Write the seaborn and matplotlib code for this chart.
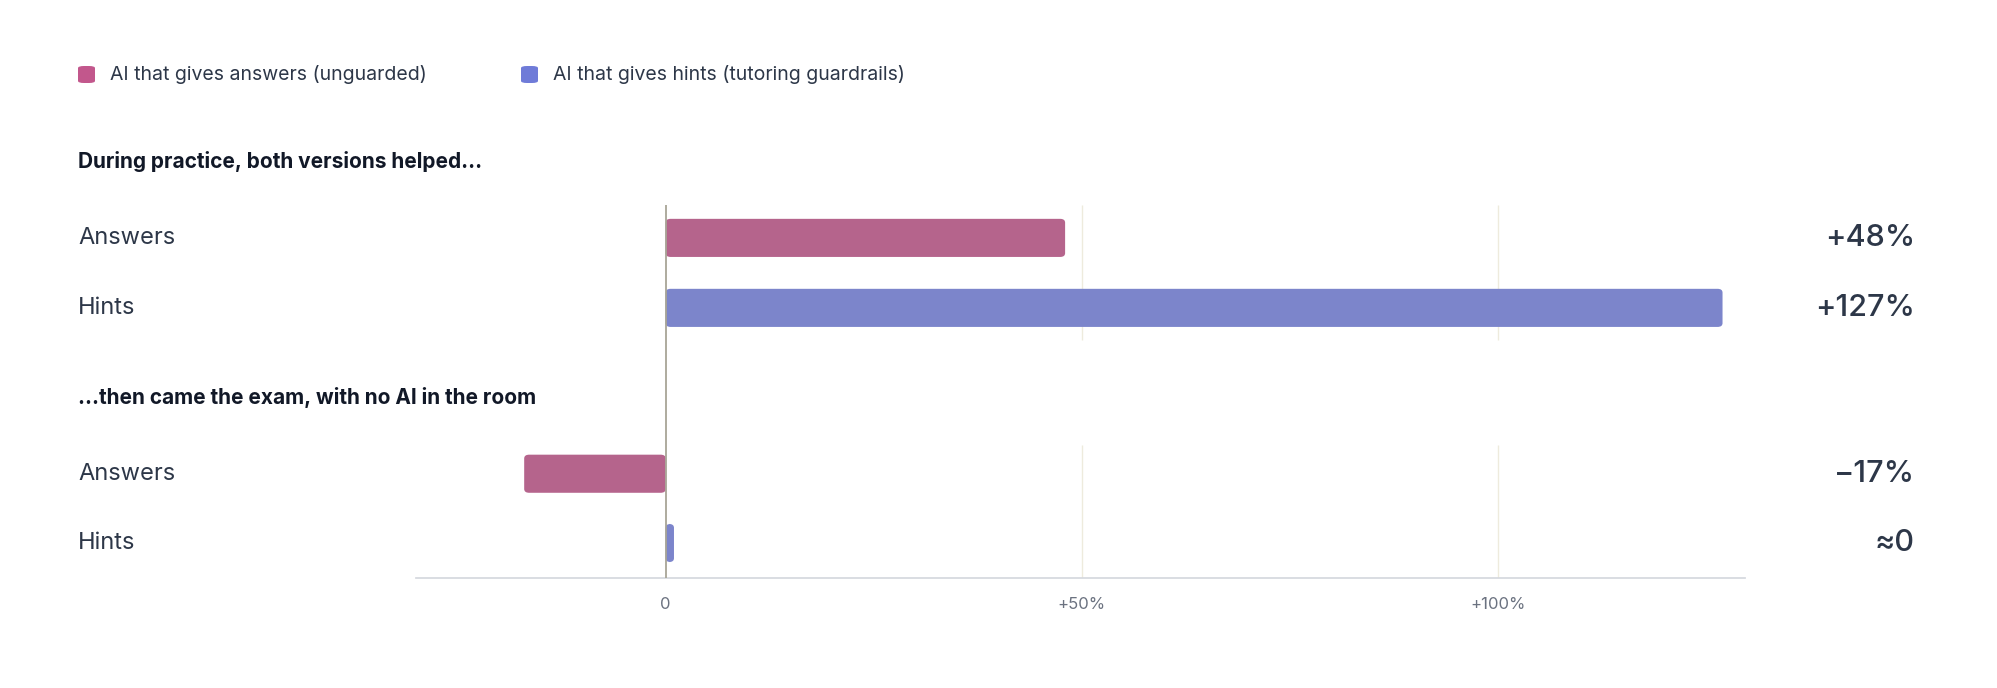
import matplotlib
matplotlib.use("Agg")
import matplotlib.pyplot as plt
import seaborn as sns
import pandas as pd
from matplotlib.patches import FancyBboxPatch

rows = ["Answers", "Hints", "Answers", "Hints"]
series = ["AI that gives answers (unguarded)", "AI that gives hints (tutoring guardrails)",
          "AI that gives answers (unguarded)", "AI that gives hints (tutoring guardrails)"]
values = [48, 127, -17, 1]
value_labels = ["+48%", "+127%", "\u221217%", "\u22480"]
positions = [0, 1, 3.37, 4.36]
sections = ["During practice, both versions helped\u2026", "\u2026then came the exam, with no AI in the room"]
ticks = [0, 50, 100]
tick_labels = ["0", "+50%", "+100%"]

PINK, BLUE = "#C2578C", "#6F7BD8"
TXT = "#2D3748"
sns.set_theme(style="white")
plt.rcParams['font.family'] = ['Inter', 'DejaVu Sans']

fig = plt.figure(figsize=(19.97, 6.88), dpi=100)
ax = fig.add_axes([416/1997, 1-578/688, (1745-416)/1997, (578-205)/688])
df = pd.DataFrame({"v": values, "y": positions, "s": series})
sns.barplot(data=df, x="v", y="y", hue="s", orient="h", native_scale=True, dodge=False,
            palette={series[0]: PINK, series[1]: BLUE}, width=0.55, ax=ax, legend=False, zorder=3)
# rounded bars
for p in list(ax.patches):
    x0, y0, w, h = p.get_x(), p.get_y(), p.get_width(), p.get_height()
    if w < 0:
        x0, w = x0 + w, -w
    fb = FancyBboxPatch((x0, y0), w, h, boxstyle="round,pad=0,rounding_size=0.6",
                        mutation_aspect=0.09, fc=p.get_facecolor(), ec="none", zorder=3)
    p.remove()
    ax.add_patch(fb)

ax.set_xlim(-30, 129.7)
ax.set_ylim(4.86, -0.47)
ax.set_yticks([])
ax.set_ylabel(""); ax.set_xlabel("")
for s in ["top", "right", "left"]:
    ax.spines[s].set_visible(False)
ax.spines["bottom"].set_color("#D5D8DE")
ax.set_xticks(ticks, tick_labels, fontsize=12, color="#6B7280")
ax.tick_params(axis="x", length=0, pad=14)
# gridlines
for t in ticks[1:]:
    ax.vlines(t, -0.47, 1.46, color="#EEEBDD", lw=1, zorder=1)
    ax.vlines(t, 2.96, 4.86, color="#EEEBDD", lw=1, zorder=1)
ax.axvline(0, color="#A8A596", lw=1.3, zorder=4)

for r, yp, lab in zip(rows, positions, value_labels):
    ypx = ax.transData.transform((0, yp))[1] / fig.dpi / fig.get_figheight()
    fig.text(78/1997, ypx, r, fontsize=17, color=TXT, va="center", ha="left")
    fig.text(1915/1997, ypx, lab, fontsize=22, color=TXT, va="center", ha="right", fontweight="medium")

fig.text(78/1997, 1-162/688, sections[0], fontsize=15, fontweight="bold", color="#111827", va="center")
fig.text(78/1997, 1-397/688, sections[1], fontsize=15, fontweight="bold", color="#111827", va="center")

# legend
for xs, col, lab in [(78, PINK, series[0]), (521, BLUE, series[1])]:
    fig.patches.append(FancyBboxPatch((xs/1997, 1-83/688), 17/1997, 17/688,
                       boxstyle="round,pad=0,rounding_size=0.003", transform=fig.transFigure,
                       fc=col, ec="none"))
    fig.text((xs+32)/1997, 1-75/688, lab, fontsize=14, color=TXT, va="center")

fig.savefig("out.png", dpi=100)
